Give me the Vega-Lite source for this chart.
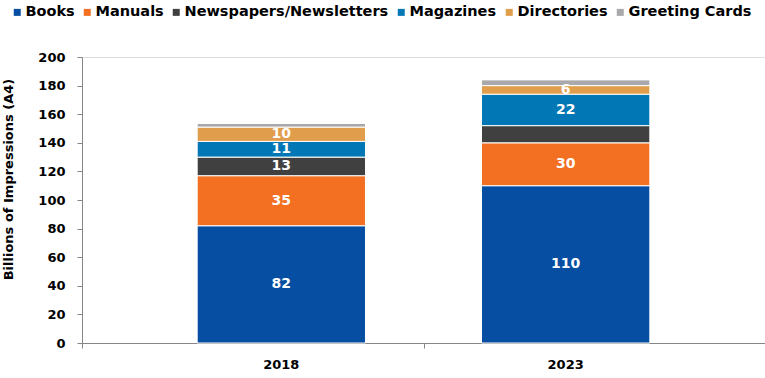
{
  "$schema": "https://vega.github.io/schema/vega-lite/v6.json",
  "width": 683,
  "height": 286,
  "autosize": {"type": "none"},
  "padding": {"left": 82, "top": 57, "right": 0, "bottom": 35},
  "background": "white",
  "data": {
    "values": [
      {"year": "2018", "type": "Books", "k": 1, "value": 82, "label": "82"},
      {"year": "2018", "type": "Manuals", "k": 2, "value": 35, "label": "35"},
      {"year": "2018", "type": "Newspapers/Newsletters", "k": 3, "value": 13, "label": "13"},
      {"year": "2018", "type": "Magazines", "k": 4, "value": 11, "label": "11"},
      {"year": "2018", "type": "Directories", "k": 5, "value": 10, "label": "10"},
      {"year": "2018", "type": "Greeting Cards", "k": 6, "value": 2.5, "label": ""},
      {"year": "2023", "type": "Books", "k": 1, "value": 110, "label": "110"},
      {"year": "2023", "type": "Manuals", "k": 2, "value": 30, "label": "30"},
      {"year": "2023", "type": "Newspapers/Newsletters", "k": 3, "value": 12, "label": ""},
      {"year": "2023", "type": "Magazines", "k": 4, "value": 22, "label": "22"},
      {"year": "2023", "type": "Directories", "k": 5, "value": 6, "label": "6"},
      {"year": "2023", "type": "Greeting Cards", "k": 6, "value": 4, "label": ""}
    ]
  },
  "layer": [
    {
      "encoding": {
        "x": {
          "field": "year",
          "type": "nominal",
          "scale": {"paddingInner": 0.408, "paddingOuter": 0.405},
          "axis": {
            "title": null,
            "orient": "bottom",
            "labelAngle": 0,
            "labelFont": "DejaVu Sans",
            "labelFontWeight": "bold",
            "labelFontSize": 13,
            "labelColor": "black",
            "labelPadding": 15,
            "ticks": false,
            "domain": false,
            "grid": false
          }
        },
        "y": {
          "field": "value",
          "type": "quantitative",
          "stack": "zero",
          "scale": {"domain": [0, 200], "nice": false},
          "axis": {
            "title": "Billions of Impressions (A4)",
            "titleFont": "DejaVu Sans",
            "titleFontWeight": "bold",
            "titleFontSize": 13,
            "titleColor": "black",
            "titleX": -74,
            "titleY": 122,
            "titleAngle": -90,
            "titleAlign": "center",
            "titleBaseline": "middle",
            "values": [0, 20, 40, 60, 80, 100, 120, 140, 160, 180, 200],
            "labelFont": "DejaVu Sans",
            "labelFontWeight": "bold",
            "labelFontSize": 13,
            "labelColor": "black",
            "labelPadding": 12,
            "tickSize": 5,
            "tickColor": "#868686",
            "domainColor": "#868686",
            "grid": false
          }
        },
        "order": {"field": "k", "type": "quantitative"}
      },
      "layer": [
        {
          "mark": {"type": "bar", "stroke": "white", "strokeWidth": 1},
          "encoding": {
            "color": {
              "field": "type",
              "type": "nominal",
              "sort": ["Books", "Manuals", "Newspapers/Newsletters", "Magazines", "Directories", "Greeting Cards"],
              "scale": {
                "domain": ["Books", "Manuals", "Newspapers/Newsletters", "Magazines", "Directories", "Greeting Cards"],
                "range": ["#054EA2", "#F37022", "#404040", "#0177B5", "#E09D4C", "#A9A9AB"]
              },
              "legend": {
                "title": null,
                "orient": "none",
                "direction": "horizontal",
                "legendX": -72,
                "legendY": -52,
                "symbolType": "square",
                "symbolSize": 49,
                "symbolStrokeWidth": 0,
                "labelFont": "DejaVu Sans",
                "labelFontWeight": "bold",
                "labelFontSize": 14.5,
                "labelColor": "black",
                "labelOffset": 1,
                "columnPadding": 5,
                "labelLimit": 400
              }
            }
          }
        },
        {
          "mark": {"type": "text", "color": "white", "font": "DejaVu Sans", "fontWeight": "bold", "fontSize": 14, "baseline": "middle"},
          "encoding": {
            "y": {"field": "value", "type": "quantitative", "stack": "zero", "bandPosition": 0.5},
            "text": {"field": "label"}
          }
        }
      ]
    },
    {
      "mark": {"type": "tick", "opacity": 0},
      "encoding": {
        "x": {
          "datum": 1,
          "type": "quantitative",
          "scale": {"domain": [0, 2], "nice": false},
          "axis": {
            "orient": "bottom",
            "values": [0, 1, 2],
            "labels": false,
            "title": null,
            "tickSize": 5,
            "tickColor": "#868686",
            "domainColor": "#868686",
            "grid": false
          }
        }
      }
    }
  ],
  "resolve": {"scale": {"x": "independent"}, "axis": {"x": "independent"}}
}
